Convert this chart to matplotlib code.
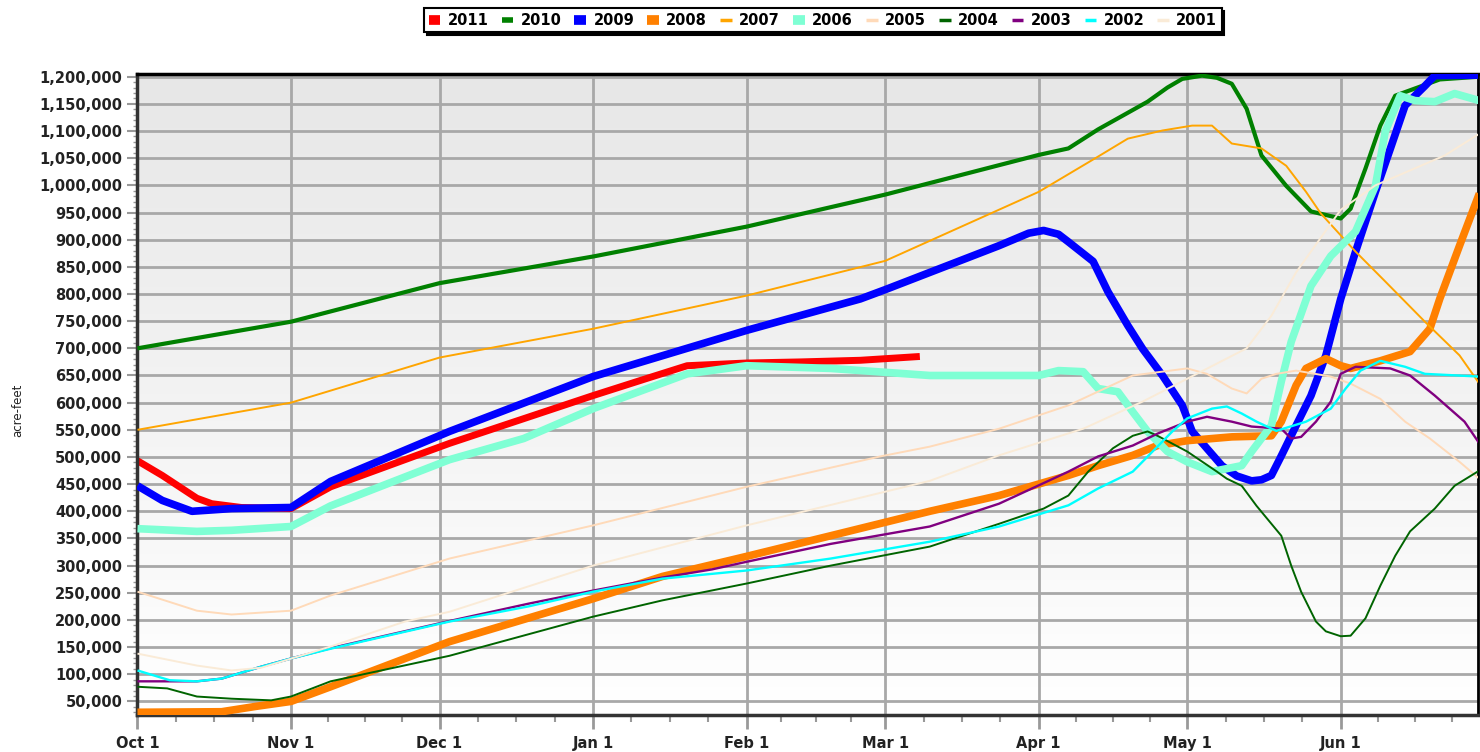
import numpy as np
import matplotlib
matplotlib.use('Agg')
import matplotlib.pyplot as plt
from matplotlib.colors import LinearSegmentedColormap
from matplotlib.lines import Line2D
from matplotlib.ticker import FuncFormatter, MultipleLocator, FixedLocator

# days since Oct 1, values in thousand acre-feet
month_days = [0, 31, 61, 92, 123, 151, 182, 212, 243, 273]
month_labels = ['Oct 1', 'Nov 1', 'Dec 1', 'Jan 1', 'Feb 1', 'Mar 1', 'Apr 1', 'May 1', 'Jun 1']

d2011 = [0, 5, 12, 15, 21, 31, 39, 63, 92, 103, 111, 123, 134, 146, 158]
v2011 = [493, 466, 424, 414, 407, 405, 445, 525, 613, 645, 668, 673, 675, 678, 685]

d2010 = [0, 31, 61, 92, 123, 151, 182, 188, 194, 204, 208, 211, 215, 218, 221, 224, 227, 232, 237, 243, 245, 248, 251, 254, 263, 271]
v2010 = [700, 749, 820, 869, 924, 983, 1056, 1068, 1103, 1154, 1180, 1196, 1202, 1198, 1187, 1141, 1055, 999, 952, 939, 957, 1031, 1110, 1165, 1195, 1200]

d2009 = [0, 5, 11, 19, 31, 39, 63, 92, 123, 146, 151, 174, 180, 183, 186, 188, 193, 196, 200, 203, 207, 211, 213, 219, 222, 225, 227, 229, 231, 234, 237, 240, 243, 246, 250, 253, 256, 260, 262, 271]
v2009 = [447, 420, 400, 405, 407, 455, 547, 648, 733, 791, 808, 889, 912, 917, 910, 896, 860, 804, 742, 699, 650, 595, 547, 484, 465, 456, 458, 466, 502, 558, 613, 687, 791, 878, 988, 1067, 1147, 1183, 1202, 1203]

d2008 = [0, 17, 24, 31, 39, 63, 92, 106, 123, 140, 160, 174, 188, 194, 201, 206, 212, 221, 229, 231, 234, 236, 240, 243, 245, 251, 257, 261, 263, 267, 271]
v2008 = [30, 31, 41, 50, 77, 160, 239, 280, 317, 355, 400, 429, 466, 484, 503, 521, 530, 537, 539, 565, 632, 663, 681, 668, 663, 677, 694, 736, 791, 889, 985]

d2007 = [0, 31, 61, 92, 123, 151, 182, 194, 200, 207, 213, 217, 221, 227, 232, 236, 239, 246, 252, 260, 267, 271]
v2007 = [550, 600, 683, 736, 797, 861, 988, 1053, 1086, 1101, 1110, 1110, 1077, 1068, 1036, 988, 948, 878, 823, 749, 687, 635]

d2006 = [0, 12, 19, 31, 39, 63, 78, 92, 111, 123, 140, 160, 182, 186, 191, 194, 198, 201, 204, 208, 212, 217, 223, 225, 229, 231, 233, 237, 241, 246, 250, 252, 255, 258, 262, 266, 271]
v2006 = [368, 363, 365, 372, 410, 495, 534, 589, 653, 668, 663, 650, 650, 659, 657, 626, 620, 583, 547, 510, 491, 473, 484, 510, 558, 639, 712, 815, 870, 915, 999, 1099, 1165, 1156, 1154, 1169, 1156]

d2005 = [0, 12, 19, 31, 39, 63, 92, 123, 150, 160, 174, 188, 201, 212, 216, 221, 224, 227, 230, 234, 241, 245, 251, 256, 261, 267, 271]
v2005 = [252, 217, 210, 217, 245, 313, 374, 445, 501, 519, 552, 595, 650, 663, 653, 626, 617, 644, 653, 659, 648, 635, 607, 565, 534, 491, 460]

d2004 = [0, 6, 12, 19, 27, 31, 39, 63, 92, 106, 123, 140, 160, 174, 183, 188, 192, 197, 201, 204, 206, 212, 218, 220, 223, 226, 231, 233, 235, 238, 240, 243, 245, 248, 251, 254, 257, 262, 266, 271]
v2004 = [77, 74, 59, 55, 52, 59, 87, 134, 206, 236, 267, 300, 335, 377, 405, 429, 473, 516, 539, 547, 539, 510, 473, 460, 447, 410, 355, 300, 252, 197, 179, 170, 171, 203, 263, 318, 363, 405, 447, 475]

d2003 = [0, 6, 12, 17, 25, 31, 39, 63, 79, 92, 106, 116, 123, 140, 160, 174, 188, 194, 201, 206, 212, 216, 221, 225, 231, 233, 235, 238, 241, 243, 246, 253, 257, 262, 268, 271]
v2003 = [87, 87, 87, 92, 114, 129, 148, 198, 230, 254, 278, 293, 307, 340, 372, 414, 473, 501, 521, 543, 565, 574, 565, 556, 552, 534, 537, 565, 602, 653, 666, 663, 650, 613, 565, 525]

d2002 = [0, 6.5, 12, 17, 25, 31, 39, 63, 79, 92, 106, 123, 140, 160, 174, 188, 194, 201, 205, 209, 212, 217, 220, 223, 226, 230, 236, 241, 244, 247, 251, 256, 260, 271]
v2002 = [107, 89, 87, 92, 114, 129, 147, 197, 225, 252, 276, 291, 313, 344, 372, 411, 442, 473, 510, 547, 571, 589, 593, 580, 565, 548, 565, 589, 626, 659, 677, 666, 653, 648]

d2001 = [0, 12, 19, 25, 39, 54, 63, 92, 123, 160, 174, 191, 203, 224, 229, 234, 243, 250, 264, 271]
v2001 = [138, 116, 107, 112, 151, 197, 215, 300, 374, 456, 503, 552, 602, 700, 760, 840, 955, 1000, 1055, 1095]

series = [
    ('2011', d2011, v2011, '#ff0000', 5.0, 7),
    ('2010', d2010, v2010, '#008000', 3.0, 4),
    ('2009', d2009, v2009, '#0000ff', 5.5, 7),
    ('2008', d2008, v2008, '#ff8000', 5.5, 7),
    ('2007', d2007, v2007, '#ffa500', 1.4, 2.5),
    ('2006', d2006, v2006, '#7fffd4', 5.5, 7),
    ('2005', d2005, v2005, '#ffdab9', 1.4, 2.5),
    ('2004', d2004, v2004, '#006400', 1.4, 2.5),
    ('2003', d2003, v2003, '#800080', 1.7, 2.5),
    ('2002', d2002, v2002, '#00ffff', 1.7, 2.5),
    ('2001', d2001, v2001, '#faebd7', 1.4, 2.5),
]

XMAX = 270.8
YMIN, YMAX = 25000, 1205000

fig = plt.figure(figsize=(14.8, 7.52), dpi=100)
ax = fig.add_axes([0.0929, 0.0492, 0.906, 0.8524])

# grey-to-white background
grad = np.linspace(0, 1, 256).reshape(-1, 1)
cmap = LinearSegmentedColormap.from_list('bg', ['#ffffff', '#e7e7e7'])
ax.imshow(grad, cmap=cmap, origin='lower', aspect='auto',
          extent=[0, XMAX, YMIN, YMAX], zorder=0)

ax.set_xlim(0, XMAX)
ax.set_ylim(YMIN, YMAX)

ax.yaxis.set_major_locator(MultipleLocator(50000))
ax.yaxis.set_minor_locator(MultipleLocator(10000))
ax.yaxis.set_major_formatter(FuncFormatter(lambda v, p: '{:,.0f}'.format(v)))

ax.xaxis.set_major_locator(FixedLocator(month_days[:-1]))
ax.set_xticklabels(month_labels)
minor = []
for a, b in zip(month_days[:-1], month_days[1:]):
    minor += [a + (b - a) * k / 4 for k in (1, 2, 3)]
ax.xaxis.set_minor_locator(FixedLocator(minor))

ax.grid(True, which='major', color='#a8a8a8', lw=2.0, zorder=0.5)
ax.set_axisbelow(True)

for i, (lab, d, v, c, lw, _) in enumerate(series):
    ax.plot(d, np.array(v) * 1000, color=c, lw=lw, zorder=2 + i,
            solid_joinstyle='round', solid_capstyle='butt')

for s in ['left', 'bottom']:
    ax.spines[s].set_color('#333333')
    ax.spines[s].set_linewidth(2.5)
ax.spines['top'].set_color('black')
ax.spines['top'].set_linewidth(2.5)
ax.spines['right'].set_color('black')
ax.spines['right'].set_linewidth(2)

ax.tick_params(axis='y', which='major', length=7, width=1.5, color='#999999',
               labelsize=10.5, pad=4, labelcolor='#222222')
ax.tick_params(axis='y', which='minor', length=3, width=1, color='#999999')
ax.tick_params(axis='x', which='major', length=10, width=2, color='#999999',
               labelsize=10.5, pad=5, labelcolor='#222222')
ax.tick_params(axis='x', which='minor', length=5, width=1.5, color='#999999')
for t in ax.get_xticklabels() + ax.get_yticklabels():
    t.set_fontweight('bold')

fig.text(0.012, 0.455, 'acre-feet', rotation=90, ha='center', va='center',
         fontsize=8.5, color='#222222')

handles = [Line2D([], [], color=c, lw=hlw, solid_capstyle='butt')
           for (lab, d, v, c, lw, hlw) in series]
leg = fig.legend(handles, [s[0] for s in series], loc='center',
                 bbox_to_anchor=(0.556, 0.973), ncol=11, frameon=True,
                 fancybox=False, shadow={'color': 'black', 'alpha': 1},
                 handlelength=0.8, handletextpad=0.5, columnspacing=0.9,
                 borderpad=0.3, prop={'size': 10.5, 'weight': 'bold'})
leg.get_frame().set_edgecolor('black')
leg.get_frame().set_linewidth(1.5)

fig.savefig('out.png', dpi=100)
